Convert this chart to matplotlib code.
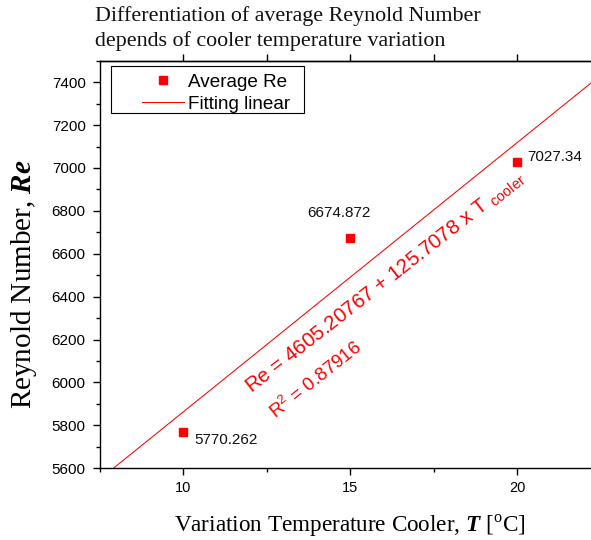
import numpy as np
import matplotlib
matplotlib.use("Agg")
import matplotlib.pyplot as plt
from matplotlib.patches import Rectangle
from matplotlib.ticker import MultipleLocator

# average Reynold number for each cooler temperature
temp_cooler = [10, 15, 20]
re_average = [5770.262, 6674.872, 7027.34]

# linear fit results
fit_intercept = 4605.20767
fit_slope = 125.7078
fit_r2 = 0.87916

top_ticks = [10, 12.5, 15, 17.5, 20]

plt.rcParams["font.family"] = "Liberation Sans"
plt.rcParams["mathtext.fontset"] = "custom"
plt.rcParams["mathtext.rm"] = "Liberation Serif"
plt.rcParams["mathtext.sf"] = "Liberation Sans"
plt.rcParams["mathtext.bfit"] = "Liberation Serif:bold:italic"

fig = plt.figure(figsize=(5.91, 5.40), dpi=100)
ax = fig.add_axes([0.1684, 0.1328, 0.8316, 0.7548])

ax.set_xlim(7.5, 22.2)
ax.set_ylim(5600, 7500)

pts, = ax.plot(temp_cooler, re_average, "s", ms=6.2, color="red", label="Average Re")
x_fit = np.array(ax.get_xlim())
fit_line, = ax.plot(
    x_fit, fit_intercept + fit_slope * x_fit, color="red", lw=0.75, label="Fitting linear"
)

# value labels next to each point
label_offsets = [(8.4, -8.6), (-31, 14.8), (7.2, 0.7)]
for t, v, off in zip(temp_cooler, re_average, label_offsets):
    ax.annotate(
        str(v),
        (t, v),
        xytext=off,
        textcoords="offset points",
        ha="left",
        va="baseline",
        fontsize=11,
        color="#111111",
    )

# fit equation along the line
ax.text(
    12.05,
    5946,
    f"Re = {fit_intercept} + {fit_slope} x T " + r"$_{\mathsf{cooler}}$",
    rotation=38,
    rotation_mode="anchor",
    ha="left",
    va="baseline",
    fontsize=14.8,
    color="red",
)
ax.text(
    12.78,
    5826,
    r"R$^{\mathsf{2}}$" + f" = {fit_r2}",
    rotation=38.5,
    rotation_mode="anchor",
    ha="left",
    va="baseline",
    fontsize=13.5,
    color="red",
)

ax.xaxis.set_major_locator(MultipleLocator(5))
ax.xaxis.set_minor_locator(MultipleLocator(2.5))
ax.yaxis.set_major_locator(MultipleLocator(200))
ax.yaxis.set_minor_locator(MultipleLocator(100))
ax.tick_params(which="major", length=5, width=1, direction="out")
ax.tick_params(which="minor", length=3, width=1, direction="out")
ax.tick_params(axis="x", pad=4.5, labelsize=10.5)
ax.tick_params(axis="y", pad=5, labelsize=11)
for side in ["left", "bottom", "top"]:
    ax.spines[side].set_linewidth(1)
ax.spines["right"].set_visible(False)

sec = ax.secondary_xaxis("top")
sec.set_xticks(top_ticks)
sec.tick_params(length=5, width=1, direction="out", labeltop=False)
sec.spines["top"].set_linewidth(1)

# legend
ax.legend(
    handles=[pts, fit_line],
    loc="upper left",
    bbox_to_anchor=(0.0865, 0.968),
    frameon=False,
    fontsize=13.6,
    handlelength=2.2,
    handletextpad=0.25,
    labelspacing=0.25,
    borderpad=0,
    borderaxespad=0,
)
ax.add_patch(
    Rectangle(
        (0.0228, 0.8717), 0.3933, 0.1160,
        transform=ax.transAxes, fill=False, lw=0.8, edgecolor="black", zorder=5,
    )
)

# titles and axis labels
fig.text(0.1607, 0.9611, "Differentiation of average Reynold Number",
         family="Liberation Serif", fontsize=15.8, va="baseline", color="#111111")
fig.text(0.1607, 0.9148, "depends of cooler temperature variation",
         family="Liberation Serif", fontsize=15.8, va="baseline", color="#111111")
fig.text(0.5922, 0.0154, r"Variation Temperature Cooler, $\mathbfit{T}$ [$^{\mathrm{o}}$C]",
         family="Liberation Serif", fontsize=16.7, ha="center", va="baseline")
fig.text(0.040, 0.4731, r"Reynold Number, $\mathbfit{Re}$",
         family="Liberation Serif", fontsize=21, rotation=90, ha="center", va="center")

fig.savefig("out.png", dpi=100)
